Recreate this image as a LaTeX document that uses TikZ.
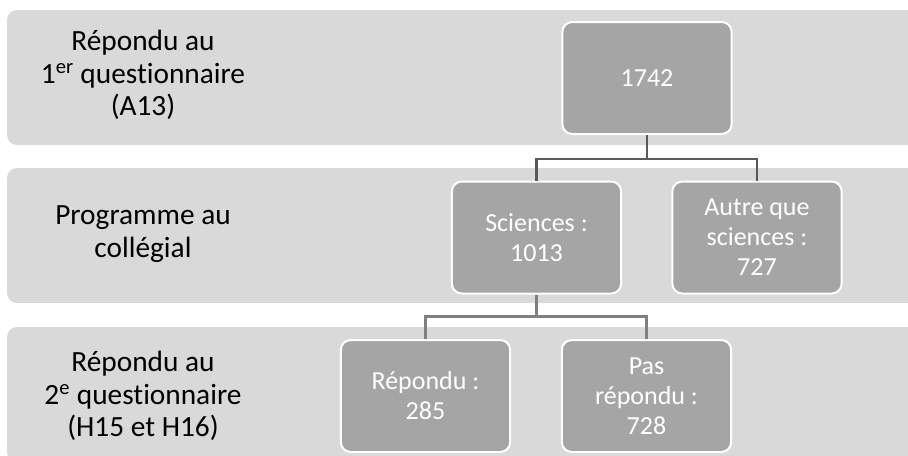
\documentclass[tikz,border=0pt]{standalone}
\usepackage{fontspec}
\setmainfont{Carlito}[Ligatures=NoCommon]
\usetikzlibrary{positioning}
\definecolor{bandgrey}{HTML}{D9D9D9}
\definecolor{boxgrey}{HTML}{A5A5A5}
\definecolor{linedark}{HTML}{595959}
\definecolor{linemid}{HTML}{7F7F7F}

\begin{document}
\begin{tikzpicture}[
  x=0.75pt,y=-0.75pt,
  band/.style={fill=bandgrey,rounded corners=7.5pt},
  lbl/.style={align=center,font=\fontsize{22}{24.5}\selectfont,text=black},
  lvlbox/.style={draw=white,line width=1.5pt,fill=boxgrey,rounded corners=7.5pt,
                 minimum width=127pt,minimum height=84pt,align=center,text=white,
                 font=\fontsize{19.5}{22.5}\selectfont},
  conn/.style={line width=2pt,linedark},
  connlow/.style={line width=2pt,linemid}
]
\useasboundingbox (0,0) rectangle (908,455);
\clip (0,0) rectangle (908,455);

% Level bands
\fill[band] (7,10) rectangle (940,145);
\fill[band] (7,168) rectangle (940,303);
\fill[band] (7,327) rectangle (940,462);

% Level labels
\node[lbl] (lvlA) at (143,75) {Répondu au\\1\textsuperscript{er} questionnaire\\(A13)};
\node[lbl] (lvlB) at (143,234) {Programme au\\collégial};
\node[lbl] (lvlC) at (143,396) {Répondu au\\2\textsuperscript{e} questionnaire\\(H15 et H16)};

% Boxes
\node[lvlbox] (total) at (647,78) {1742};
\node[lvlbox] (sci) at (536.5,237.5) {Sciences :\\1013};
\node[lvlbox] (autre) at (757,237.5) {Autre que\\sciences :\\727};
\node[lvlbox] (rep) at (425.5,396) {Répondu :\\285};
\node[lvlbox] (pasrep) at (646.5,396) {Pas\\répondu :\\728};

% Connections
\draw[conn] (total.south) -- ++(0,24) -| (sci.north);
\draw[conn] (total.south) -- ++(0,24) -| (autre.north);
\draw[connlow] (sci.south) -- ++(0,22) -| (rep.north);
\draw[connlow] (sci.south) -- ++(0,22) -| (pasrep.north);

\end{tikzpicture}
\end{document}
